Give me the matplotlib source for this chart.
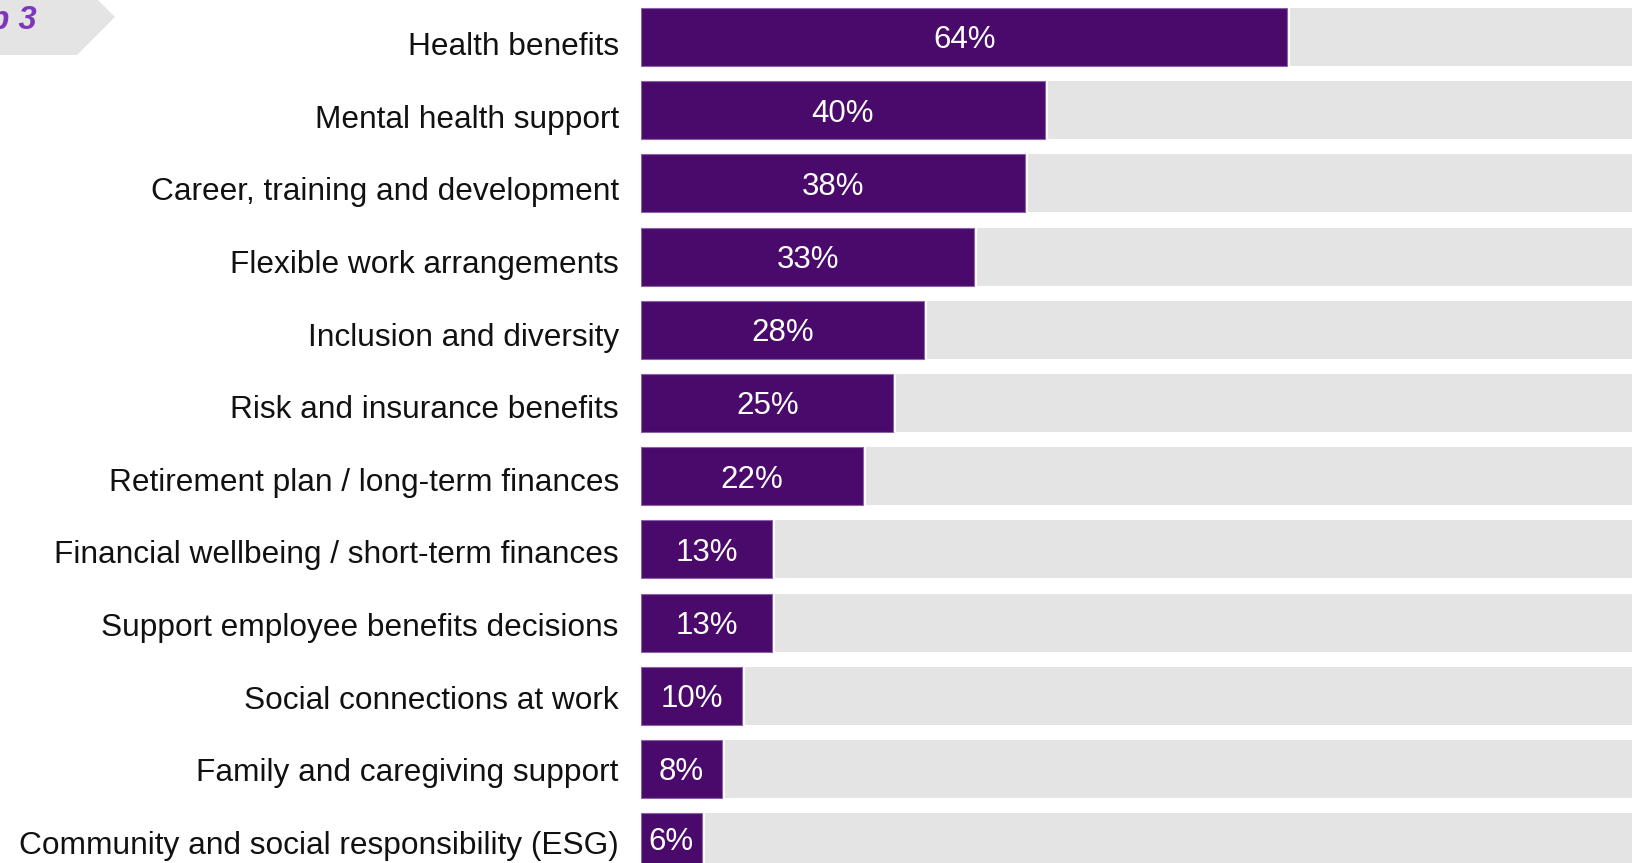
import matplotlib
matplotlib.use("Agg")
import matplotlib.pyplot as plt
from matplotlib.patches import Polygon

plt.rcParams['font.family'] = ['Liberation Sans', 'DejaVu Sans']

categories = [
    "Health benefits",
    "Mental health support",
    "Career, training and development",
    "Flexible work arrangements",
    "Inclusion and diversity",
    "Risk and insurance benefits",
    "Retirement plan / long-term finances",
    "Financial wellbeing / short-term finances",
    "Support employee benefits decisions",
    "Social connections at work",
    "Family and caregiving support",
    "Community and social responsibility (ESG)",
]
values = [64, 40, 38, 33, 28, 25, 22, 13, 13, 10, 8, 6]
total = 100
badge_text = "Top 3"

PURPLE = "#4A0A6B"
PURPLE_EDGE = "#8A62A8"
GREY = "#E4E4E4"
BADGE_TEXT = "#7E37BA"

W, H, DPI = 1633, 863, 100
fig = plt.figure(figsize=(W / DPI, H / DPI), dpi=DPI)
fig.patch.set_facecolor("white")

# plot area: bars start at x=641 px, run off the right edge
left_px = 641
px_per_unit = 10.1
ax = fig.add_axes([left_px / W, 0, (W - left_px) / W, 1])
ax.set_xlim(0, (W - left_px) / px_per_unit)

pitch = 73.2
first_center = 37.0
ax.set_ylim((H - first_center) / pitch, -first_center / pitch)

ys = list(range(len(categories)))
bar_h = 58 / pitch

rest = [total - v for v in values]
# grey remainder track
ax.barh(ys, rest, left=values, height=bar_h, color=GREY,
        edgecolor="none", zorder=1)
# white spacer that opens a small gap between the two segments
ax.barh(ys, values, height=bar_h, color="white",
        edgecolor="white", linewidth=4.4, zorder=2)
bars = ax.barh(ys, values, height=bar_h, color=PURPLE,
               edgecolor=PURPLE_EDGE, linewidth=0.8, zorder=3)
pct = ax.bar_label(bars, labels=[f"{v}%" for v in values], label_type="center",
                   color="white", fontsize=22.5, zorder=4)
for t in pct:
    t.set_va("center_baseline")

# category labels sit on a slightly tighter spacing than the bars
label_pitch = 72.6 / pitch
label_start = (43.7 - first_center) / pitch
label_ys = [label_start + i * label_pitch for i in ys]
ax.set_yticks(label_ys)
ax.set_yticklabels(categories, fontsize=22.8, color="#111111")
ax.tick_params(axis="y", length=0, pad=16)
ax.set_xticks([])
for s in ax.spines.values():
    s.set_visible(False)

# badge arrow in the top-left corner
bax = fig.add_axes([0, 0, 1, 1], zorder=5)
bax.set_xlim(0, W)
bax.set_ylim(H, 0)
bax.axis("off")
bax.patch.set_alpha(0)
bax.add_patch(Polygon([(-5, -21), (77, -21), (115, 17), (77, 55), (-5, 55)],
                      closed=True, facecolor=GREY, edgecolor="none"))
bax.text(37, 29, badge_text, ha="right", va="baseline", fontsize=23.5,
         fontweight="bold", fontstyle="italic", color=BADGE_TEXT)

fig.savefig("out.png", dpi=DPI, facecolor="white")
